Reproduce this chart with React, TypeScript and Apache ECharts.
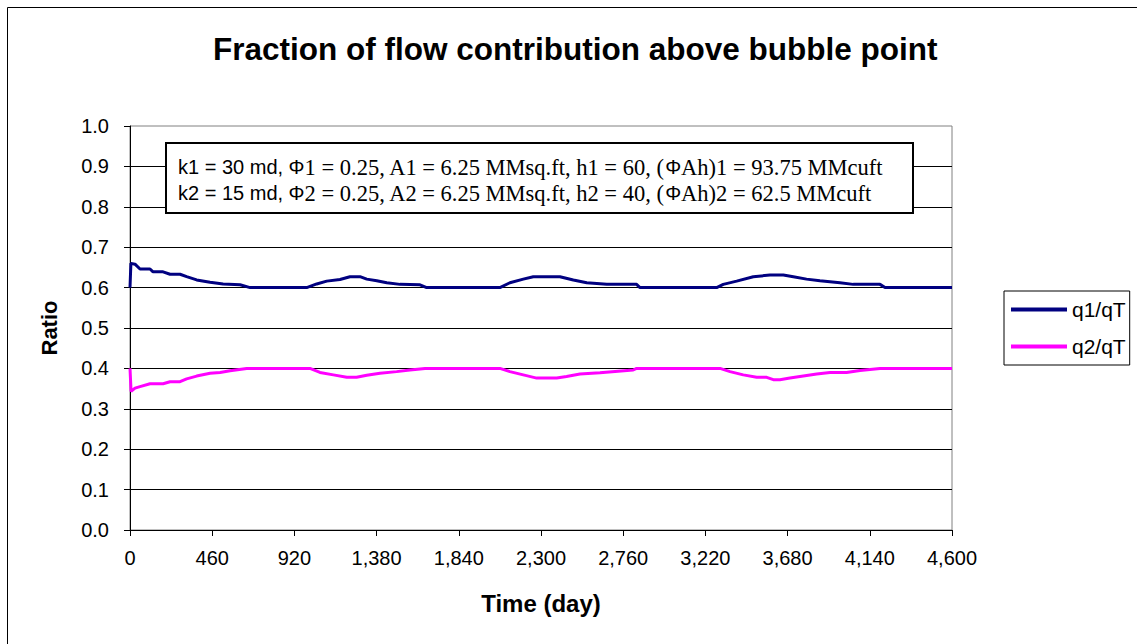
import React, { useEffect, useRef } from "react";
import * as echarts from "echarts";

const chartTitle = "Fraction of flow contribution above bubble point";
const xAxisName = "Time (day)";
const yAxisName = "Ratio";
const seriesNames = ["q1/qT", "q2/qT"];

const q1Days = [0, 5, 28, 56, 112, 129, 185, 224, 280, 317, 373, 448, 521, 616, 672, 989, 1045, 1101, 1175, 1231, 1287, 1325, 1381, 1437, 1511, 1623, 1660, 2070, 2126, 2201, 2257, 2406, 2481, 2556, 2668, 2835, 2854, 3283, 3320, 3395, 3488, 3581, 3656, 3712, 3786, 3861, 3973, 4047, 4197, 4225, 4600];
const q1Vals = [0.600, 0.660, 0.658, 0.646, 0.646, 0.639, 0.639, 0.633, 0.633, 0.627, 0.619, 0.613, 0.609, 0.607, 0.600, 0.600, 0.609, 0.616, 0.620, 0.627, 0.627, 0.621, 0.617, 0.612, 0.608, 0.607, 0.600, 0.600, 0.612, 0.621, 0.627, 0.627, 0.619, 0.612, 0.608, 0.608, 0.600, 0.600, 0.608, 0.616, 0.627, 0.631, 0.631, 0.627, 0.621, 0.617, 0.612, 0.608, 0.608, 0.600, 0.600];

const q2Days = [0, 6, 28, 56, 112, 185, 224, 280, 317, 373, 448, 504, 560, 653, 1007, 1063, 1138, 1213, 1268, 1325, 1399, 1492, 1567, 1651, 2070, 2126, 2201, 2276, 2388, 2443, 2518, 2630, 2816, 2835, 3302, 3358, 3432, 3507, 3563, 3600, 3637, 3693, 3768, 3843, 3917, 4010, 4085, 4197, 4600];
const q2Vals = [0.400, 0.343, 0.351, 0.355, 0.362, 0.362, 0.367, 0.367, 0.374, 0.381, 0.388, 0.390, 0.394, 0.400, 0.400, 0.390, 0.384, 0.378, 0.378, 0.383, 0.388, 0.392, 0.396, 0.400, 0.400, 0.392, 0.384, 0.376, 0.376, 0.380, 0.386, 0.389, 0.396, 0.400, 0.400, 0.392, 0.384, 0.378, 0.378, 0.372, 0.372, 0.376, 0.381, 0.386, 0.390, 0.390, 0.395, 0.400, 0.400];

const xMin = 0;
const xMax = 4600;
const xStep = 460;
const yMin = 0;
const yMax = 1;
const yStep = 0.1;

const noteLine1 = ["k1 = 30 md, Φ", "1 = 0.25, A1 = 6.25 MMsq.ft, h1 = 60, (", "Φ", "Ah)1 = 93.75 MMcuft"];
const noteLine2 = ["k2 = 15 md, Φ", "2 = 0.25, A2 = 6.25 MMsq.ft, h2 = 40, (", "Φ", "Ah)2 = 62.5 MMcuft"];

const SANS = "'Liberation Sans', Arial, sans-serif";
const SERIF = "'Liberation Serif', 'Times New Roman', serif";

function richLine(parts: string[]) {
  return `{a|${parts[0]}}{b|${parts[1]}}{a|${parts[2]}}{b|${parts[3]}}`;
}

export default function App() {
  const ref = useRef<HTMLDivElement>(null);
  useEffect(() => {
    if (!ref.current) return;
    const chart = echarts.init(ref.current, undefined, { renderer: "svg" });
    const fmt = (v: number) => v.toLocaleString("en-US");
    chart.setOption({
      animation: false,
      backgroundColor: "#ffffff",
      textStyle: { fontFamily: SANS },
      title: {
        text: chartTitle,
        left: 213,
        top: 33,
        textStyle: { fontSize: 31.5, fontWeight: "bold", color: "#000", fontFamily: SANS },
        padding: 0,
      },
      grid: {
        left: 130,
        right: 185,
        top: 126,
        bottom: 114,
        show: true,
        borderColor: "#808080",
        borderWidth: 1,
        backgroundColor: "transparent",
      },
      legend: {
        orient: "vertical",
        left: 1004,
        top: 291,
        padding: [8, 4, 8, 7],
        itemGap: 16,
        itemWidth: 56,
        itemHeight: 4,
        borderColor: "#000",
        borderWidth: 1,
        backgroundColor: "#fff",
        icon: "rect",
        textStyle: { fontSize: 21, color: "#000", fontFamily: SANS },
        data: seriesNames,
      },
      xAxis: {
        type: "value",
        min: xMin,
        max: xMax,
        interval: xStep,
        name: xAxisName,
        nameLocation: "middle",
        nameGap: 61,
        nameTextStyle: { fontSize: 24, fontWeight: "bold", color: "#000", fontFamily: SANS },
        axisLine: { show: true, onZero: false, lineStyle: { color: "#000", width: 1 } },
        axisTick: { show: true, inside: false, length: 6, lineStyle: { color: "#000" } },
        axisLabel: { fontSize: 20, color: "#000", margin: 18, formatter: fmt, fontFamily: SANS },
        splitLine: { show: false },
      },
      yAxis: {
        type: "value",
        min: yMin,
        max: yMax,
        interval: yStep,
        name: yAxisName,
        nameLocation: "middle",
        nameGap: 70,
        nameRotate: 90,
        nameTextStyle: { fontSize: 22, fontWeight: "bold", color: "#000", fontFamily: SANS },
        axisLine: { show: true, onZero: false, lineStyle: { color: "#000", width: 1 } },
        axisTick: { show: true, inside: false, length: 6, lineStyle: { color: "#000" } },
        axisLabel: { fontSize: 20, color: "#000", margin: 21, formatter: (v: number) => v.toFixed(1), fontFamily: SANS },
        splitLine: { show: true, showMinLine: false, showMaxLine: false, lineStyle: { color: "#000", width: 1 } },
      },
      series: [
        {
          name: seriesNames[0],
          type: "line",
          data: q1Days.map((d, i) => [d, q1Vals[i]]),
          showSymbol: false,
          symbol: "none",
          lineStyle: { color: "#000080", width: 3 },
          itemStyle: { color: "#000080" },
          z: 3,
        },
        {
          name: seriesNames[1],
          type: "line",
          data: q2Days.map((d, i) => [d, q2Vals[i]]),
          showSymbol: false,
          symbol: "none",
          lineStyle: { color: "#FF00FF", width: 3 },
          itemStyle: { color: "#FF00FF" },
          z: 3,
        },
      ],
      graphic: [
        {
          type: "rect",
          shape: { x: 7.5, y: 7.5, width: 1200, height: 700 },
          style: { fill: "none", stroke: "#000", lineWidth: 1 },
          silent: true,
          z: 0,
        },
        {
          type: "rect",
          shape: { x: 166, y: 143, width: 747, height: 70 },
          style: { fill: "#fff", stroke: "#000", lineWidth: 2 },
          z: 10,
        },
        {
          type: "text",
          x: 178,
          y: 154,
          z: 11,
          style: {
            text: richLine(noteLine1) + "\n" + richLine(noteLine2),
            fill: "#000",
            lineHeight: 26,
            rich: {
              a: { fontFamily: SANS, fontSize: 20, lineHeight: 26, fill: "#000" },
              b: { fontFamily: SERIF, fontSize: 22.5, lineHeight: 26, fill: "#000" },
            },
          },
        },
      ],
    });
    return () => chart.dispose();
  }, []);
  return <div ref={ref} style={{ position: "fixed", left: 0, top: 0, width: 1137, height: 644 }} />;
}
